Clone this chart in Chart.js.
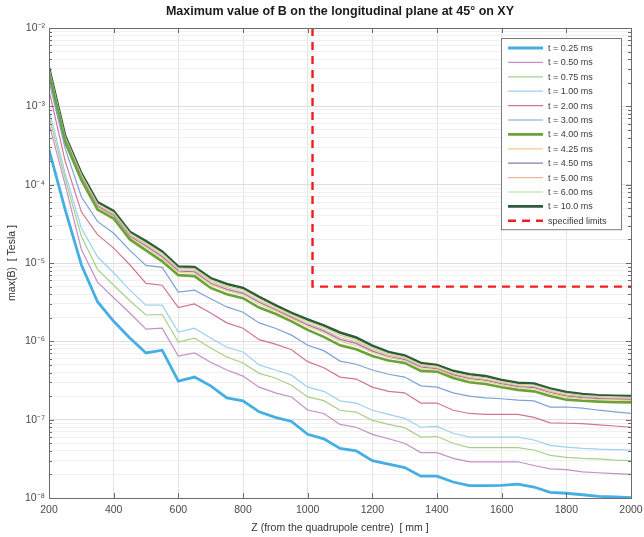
<!DOCTYPE html>
<html>
<head>
<meta charset="utf-8">
<title>max(B) on longitudinal plane</title>
<script src="https://cdn.jsdelivr.net/npm/chart.js@4/dist/chart.umd.min.js"></script>
<style>
  html, body { margin: 0; padding: 0; background: #fff; }
  #wrap { width: 644px; height: 537px; }
</style>
</head>
<body>
<div id="wrap"><canvas id="chart" width="644" height="537"></canvas></div>
<script>
// --- data (Z in mm, max(B) in Tesla) ---
const zPos = [200, 250, 300, 350, 400, 450, 500, 550, 600, 650, 700, 750, 800, 850, 900, 950, 1000,
  1050, 1100, 1150, 1200, 1250, 1300, 1350, 1400, 1450, 1500, 1550, 1600, 1650, 1700, 1750, 1800,
  1850, 1900, 1950, 2000];

const b025 = [2.8e-4, 4.8e-5, 9.5e-6, 3.2e-6, 1.8e-6, 1.1e-6, 7.1e-7, 7.7e-7, 3.1e-7, 3.5e-7, 2.7e-7,
  1.9e-7, 1.74e-7, 1.26e-7, 1.07e-7, 9.5e-8, 6.5e-8, 5.7e-8, 4.3e-8, 4.0e-8, 3.0e-8, 2.7e-8, 2.45e-8,
  1.9e-8, 1.9e-8, 1.6e-8, 1.44e-8, 1.44e-8, 1.45e-8, 1.5e-8, 1.38e-8, 1.18e-8, 1.15e-8, 1.1e-8,
  1.05e-8, 1.03e-8, 1.01e-8];
const b050 = [6.0e-4, 1.0e-4, 1.5e-5, 5.7e-6, 3.6e-6, 2.3e-6, 1.43e-6, 1.47e-6, 6.5e-7, 7.1e-7, 5.4e-7,
  4.3e-7, 3.6e-7, 2.6e-7, 2.2e-7, 1.95e-7, 1.33e-7, 1.2e-7, 8.7e-8, 8.0e-8, 6.5e-8, 5.7e-8, 5.0e-8,
  3.8e-8, 3.8e-8, 3.2e-8, 2.9e-8, 2.9e-8, 2.9e-8, 2.9e-8, 2.6e-8, 2.35e-8, 2.3e-8, 2.15e-8, 2.1e-8,
  2.05e-8, 2.0e-8];
const b075 = [7.5e-4, 1.2e-4, 2.2e-5, 8.3e-6, 5.2e-6, 3.3e-6, 2.17e-6, 2.2e-6, 9.8e-7, 1.1e-6, 8.2e-7,
  6.3e-7, 5.3e-7, 3.9e-7, 3.4e-7, 2.75e-7, 1.95e-7, 1.75e-7, 1.32e-7, 1.25e-7, 9.8e-8, 8.7e-8, 7.9e-8,
  6.0e-8, 6.1e-8, 5.0e-8, 4.4e-8, 4.4e-8, 4.4e-8, 4.4e-8, 4.1e-8, 3.5e-8, 3.3e-8, 3.2e-8, 3.15e-8,
  3.05e-8, 3.0e-8];
const b100 = [9.0e-4, 1.4e-4, 2.8e-5, 1.2e-5, 7.5e-6, 4.5e-6, 2.9e-6, 2.9e-6, 1.31e-6, 1.47e-6, 1.1e-6,
  8.4e-7, 7.3e-7, 5.0e-7, 4.3e-7, 3.7e-7, 2.6e-7, 2.3e-7, 1.74e-7, 1.63e-7, 1.32e-7, 1.17e-7, 1.04e-7,
  8.0e-8, 8.2e-8, 6.7e-8, 6.0e-8, 6.0e-8, 6.0e-8, 6.0e-8, 5.5e-8, 4.7e-8, 4.45e-8, 4.3e-8, 4.2e-8,
  4.15e-8, 4.1e-8];
const b200 = [1.6e-3, 2.0e-4, 4.5e-5, 2.3e-5, 1.55e-5, 9.5e-6, 5.5e-6, 5.2e-6, 2.7e-6, 3.0e-6, 2.3e-6,
  1.72e-6, 1.47e-6, 1.05e-6, 9.2e-7, 7.8e-7, 5.5e-7, 4.6e-7, 3.5e-7, 3.3e-7, 2.6e-7, 2.3e-7, 2.2e-7,
  1.63e-7, 1.63e-7, 1.32e-7, 1.2e-7, 1.17e-7, 1.17e-7, 1.17e-7, 1.07e-7, 9.1e-8, 9.0e-8, 8.9e-8,
  8.6e-8, 8.3e-8, 8.0e-8];
const b300 = [2.1e-3, 2.9e-4, 7.0e-5, 3.4e-5, 2.4e-5, 1.45e-5, 9.3e-6, 8.8e-6, 4.25e-6, 4.5e-6, 3.5e-6,
  2.75e-6, 2.35e-6, 1.72e-6, 1.47e-6, 1.2e-6, 8.9e-7, 7.6e-7, 5.6e-7, 5.1e-7, 4.3e-7, 3.8e-7, 3.5e-7,
  2.7e-7, 2.6e-7, 2.2e-7, 2.0e-7, 1.9e-7, 1.85e-7, 1.78e-7, 1.74e-7, 1.45e-7, 1.45e-7, 1.4e-7,
  1.32e-7, 1.26e-7, 1.2e-7];
const b400 = [2.6e-3, 3.5e-4, 1.15e-4, 4.8e-5, 3.7e-5, 2.0e-5, 1.45e-5, 1.05e-5, 7.0e-6, 6.8e-6, 4.8e-6,
  4.0e-6, 3.55e-6, 2.7e-6, 2.25e-6, 1.8e-6, 1.4e-6, 1.14e-6, 8.9e-7, 7.9e-7, 6.5e-7, 5.7e-7, 5.3e-7,
  4.2e-7, 4.1e-7, 3.4e-7, 3.0e-7, 2.85e-7, 2.6e-7, 2.4e-7, 2.3e-7, 2.0e-7, 1.8e-7, 1.74e-7, 1.7e-7,
  1.67e-7, 1.66e-7];
const b425 = [2.7e-3, 3.65e-4, 1.21e-4, 5.1e-5, 3.9e-5, 2.12e-5, 1.58e-5, 1.14e-5, 7.6e-6, 7.4e-6, 5.3e-6,
  4.4e-6, 3.9e-6, 3.0e-6, 2.45e-6, 1.95e-6, 1.55e-6, 1.28e-6, 1.0e-6, 8.9e-7, 7.2e-7, 6.2e-7, 5.65e-7,
  4.5e-7, 4.35e-7, 3.6e-7, 3.24e-7, 3.08e-7, 2.78e-7, 2.56e-7, 2.48e-7, 2.15e-7, 1.94e-7, 1.85e-7,
  1.81e-7, 1.78e-7, 1.76e-7];
const b450 = [2.8e-3, 3.8e-4, 1.25e-4, 5.3e-5, 4.05e-5, 2.2e-5, 1.65e-5, 1.2e-5, 7.9e-6, 7.7e-6, 5.5e-6,
  4.6e-6, 4.1e-6, 3.15e-6, 2.53e-6, 2.02e-6, 1.62e-6, 1.35e-6, 1.06e-6, 9.4e-7, 7.5e-7, 6.4e-7, 5.85e-7,
  4.7e-7, 4.45e-7, 3.73e-7, 3.35e-7, 3.18e-7, 2.86e-7, 2.64e-7, 2.56e-7, 2.22e-7, 2.0e-7, 1.91e-7,
  1.86e-7, 1.83e-7, 1.81e-7];
const b500 = [2.9e-3, 3.9e-4, 1.29e-4, 5.5e-5, 4.2e-5, 2.3e-5, 1.72e-5, 1.26e-5, 8.2e-6, 8.1e-6, 5.8e-6,
  4.85e-6, 4.3e-6, 3.3e-6, 2.62e-6, 2.1e-6, 1.7e-6, 1.41e-6, 1.12e-6, 9.9e-7, 7.9e-7, 6.7e-7, 6.05e-7,
  4.85e-7, 4.6e-7, 3.85e-7, 3.46e-7, 3.28e-7, 2.95e-7, 2.72e-7, 2.65e-7, 2.3e-7, 2.07e-7, 1.97e-7,
  1.91e-7, 1.88e-7, 1.86e-7];
const b600 = [3.0e-3, 4.05e-4, 1.35e-4, 5.7e-5, 4.4e-5, 2.4e-5, 1.8e-5, 1.33e-5, 8.6e-6, 8.5e-6, 6.1e-6,
  5.1e-6, 4.55e-6, 3.5e-6, 2.75e-6, 2.2e-6, 1.8e-6, 1.5e-6, 1.2e-6, 1.05e-6, 8.3e-7, 7.0e-7, 6.3e-7,
  5.05e-7, 4.8e-7, 4.0e-7, 3.62e-7, 3.43e-7, 3.07e-7, 2.83e-7, 2.77e-7, 2.4e-7, 2.16e-7, 2.04e-7,
  1.98e-7, 1.95e-7, 1.93e-7];
const b1000 = [3.1e-3, 4.2e-4, 1.4e-4, 6.0e-5, 4.6e-5, 2.5e-5, 1.9e-5, 1.4e-5, 9.0e-6, 8.9e-6, 6.4e-6,
  5.4e-6, 4.8e-6, 3.7e-6, 2.9e-6, 2.3e-6, 1.9e-6, 1.6e-6, 1.3e-6, 1.12e-6, 8.8e-7, 7.3e-7, 6.6e-7,
  5.3e-7, 5.0e-7, 4.2e-7, 3.8e-7, 3.6e-7, 3.2e-7, 2.95e-7, 2.9e-7, 2.5e-7, 2.25e-7, 2.12e-7, 2.05e-7,
  2.02e-7, 2.0e-7];

// specified limits polyline
const limitZ = [1015, 1015, 2000];
const limitB = [1e-2, 5e-6, 5e-6];

// axis ticks
const xTicks = [200, 400, 600, 800, 1000, 1200, 1400, 1600, 1800, 2000];
const yDecades = [1e-8, 1e-7, 1e-6, 1e-5, 1e-4, 1e-3, 1e-2];
const yMantissas = [1, 2, 3, 4, 5, 6, 7, 8, 9];

const FONT = "'Liberation Sans', Arial, Helvetica, sans-serif";

const series = [
  { label: 't = 0.25 ms', data: b025, color: '#45aee3', width: 2.8 },
  { label: 't = 0.50 ms', data: b050, color: '#c490c8', width: 1.2 },
  { label: 't = 0.75 ms', data: b075, color: '#a8d08a', width: 1.2 },
  { label: 't = 1.00 ms', data: b100, color: '#9ed0f0', width: 1.2 },
  { label: 't = 2.00 ms', data: b200, color: '#d27590', width: 1.2 },
  { label: 't = 3.00 ms', data: b300, color: '#7ea2d8', width: 1.2 },
  { label: 't = 4.00 ms', data: b400, color: '#6aa33a', width: 2.6 },
  { label: 't = 4.25 ms', data: b425, color: '#f3cd8c', width: 1.2 },
  { label: 't = 4.50 ms', data: b450, color: '#9277b5', width: 1.2 },
  { label: 't = 5.00 ms', data: b500, color: '#f1b59a', width: 1.2 },
  { label: 't = 6.00 ms', data: b600, color: '#b8da8e', width: 1.2 },
  { label: 't = 10.0 ms', data: b1000, color: '#2f5a3b', width: 2.6 }
];

const datasets = series.map(s => ({
  label: s.label,
  data: zPos.map((z, i) => ({ x: z, y: s.data[i] })),
  borderColor: s.color,
  backgroundColor: s.color,
  borderWidth: s.width,
  pointRadius: 0,
  tension: 0,
  fill: false
}));

datasets.push({
  label: 'specified limits',
  data: limitZ.map((z, i) => ({ x: z, y: limitB[i] })),
  borderColor: '#f01e1e',
  backgroundColor: '#f01e1e',
  borderWidth: 2.4,
  borderDash: [8, 6],
  pointRadius: 0,
  fill: false
});

const SUP = { '-': '\u207B', '0': '\u2070', '1': '\u00B9', '2': '\u00B2', '3': '\u00B3', '4': '\u2074',
  '5': '\u2075', '6': '\u2076', '7': '\u2077', '8': '\u2078', '9': '\u2079' };
const isDecade = v => yDecades.some(d => Math.abs(v / d - 1) < 1e-6);
const decadeLabel = v => '10' + String(Math.round(Math.log10(v))).split('').map(c => SUP[c]).join('');

// box around the axes with inward ticks (MATLAB look)
const axesBox = {
  id: 'axesBox',
  afterDatasetsDraw(chart) {
    const { ctx, chartArea: a, scales } = chart;
    ctx.save();
    ctx.strokeStyle = '#6b6b6b';
    ctx.lineWidth = 1;
    ctx.beginPath();
    xTicks.forEach(t => {
      const px = Math.round(scales.x.getPixelForValue(t)) + 0.5;
      ctx.moveTo(px, a.bottom); ctx.lineTo(px, a.bottom - 5);
      ctx.moveTo(px, a.top); ctx.lineTo(px, a.top + 5);
    });
    yDecades.forEach(d => yMantissas.forEach(m => {
      const v = d * m;
      if (v > 1e-2 + 1e-12) return;
      const py = Math.round(scales.y.getPixelForValue(v)) + 0.5;
      const len = m === 1 ? 5 : 3;
      ctx.moveTo(a.left, py); ctx.lineTo(a.left + len, py);
      ctx.moveTo(a.right, py); ctx.lineTo(a.right - len, py);
    }));
    ctx.stroke();
    ctx.strokeRect(Math.round(a.left) + 0.5, Math.round(a.top) + 0.5,
      Math.round(a.right - a.left), Math.round(a.bottom - a.top));
    ctx.restore();
  }
};

// legend box inside the axes, top right
const boxLegend = {
  id: 'boxLegend',
  afterDraw(chart) {
    const { ctx, chartArea: a } = chart;
    const sets = chart.data.datasets;
    const rowH = 14.4;
    const w = 120, left = a.right - 130, top = a.top + 10;
    const h = sets.length * rowH + 4;
    ctx.save();
    ctx.fillStyle = '#fff';
    ctx.fillRect(left, top, w, h);
    ctx.strokeStyle = '#7a7a7a';
    ctx.lineWidth = 1;
    ctx.strokeRect(left + 0.5, top + 0.5, w, h);
    ctx.font = '9px ' + FONT;
    ctx.textBaseline = 'middle';
    ctx.textAlign = 'left';
    sets.forEach((ds, i) => {
      const y = top + 10 + i * rowH;
      ctx.strokeStyle = ds.borderColor;
      ctx.lineWidth = ds.borderWidth;
      ctx.setLineDash(ds.borderDash || []);
      ctx.beginPath();
      ctx.moveTo(left + 7, y);
      ctx.lineTo(left + 42, y);
      ctx.stroke();
      ctx.setLineDash([]);
      ctx.fillStyle = '#3a3a3a';
      ctx.fillText(ds.label, left + 47, y + 0.5);
    });
    ctx.restore();
  }
};

new Chart(document.getElementById('chart'), {
  type: 'line',
  data: { datasets },
  options: {
    responsive: false,
    devicePixelRatio: 1,
    animation: false,
    layout: { padding: { left: 0, right: 13, top: 0, bottom: 0 } },
    plugins: {
      legend: { display: false },
      tooltip: { enabled: false },
      title: {
        display: true,
        fullSize: false,
        text: 'Maximum value of B on the longitudinal plane at 45\u00B0 on XY',
        color: '#1a1a1a',
        font: { family: FONT, size: 12.5, weight: 'bold' },
        padding: { top: 4, bottom: 9 }
      }
    },
    scales: {
      x: {
        type: 'linear',
        min: 200,
        max: 2000,
        afterBuildTicks: scale => { scale.ticks = xTicks.map(v => ({ value: v })); },
        afterFit: scale => {
          scale.height = 39;
          scale.paddingLeft = 0;
          scale.paddingRight = 13;
        },
        ticks: {
          color: '#4a4a4a',
          font: { family: FONT, size: 10.5 },
          padding: 6,
          maxRotation: 0,
          callback: v => String(v)
        },
        grid: { color: '#e4e4e4', drawTicks: false },
        border: { display: false },
        title: {
          display: true,
          text: 'Z (from the quadrupole centre)  [ mm ]',
          color: '#333',
          font: { family: FONT, size: 10.5 },
          padding: { top: 0, bottom: 3 }
        }
      },
      y: {
        type: 'logarithmic',
        min: 1e-8,
        max: 1e-2,
        afterBuildTicks: scale => {
          const t = [];
          yDecades.forEach(d => yMantissas.forEach(m => {
            const v = d * m;
            if (v <= 1e-2 * (1 + 1e-9)) t.push({ value: v });
          }));
          scale.ticks = t;
        },
        afterFit: scale => { scale.width = 49; },
        ticks: {
          color: '#4a4a4a',
          font: { family: FONT, size: 10.5 },
          padding: 4,
          autoSkip: false,
          callback: v => (isDecade(v) ? decadeLabel(v) : '')
        },
        grid: {
          drawTicks: false,
          color: ctx => (ctx.tick && isDecade(ctx.tick.value) ? '#dedede' : '#f0f0f0')
        },
        border: { display: false },
        title: {
          display: true,
          text: 'max(B)  [ Tesla ]',
          color: '#333',
          font: { family: FONT, size: 10.5 },
          padding: { top: 6, bottom: 0 }
        }
      }
    }
  },
  plugins: [axesBox, boxLegend]
});
</script>
</body>
</html>
